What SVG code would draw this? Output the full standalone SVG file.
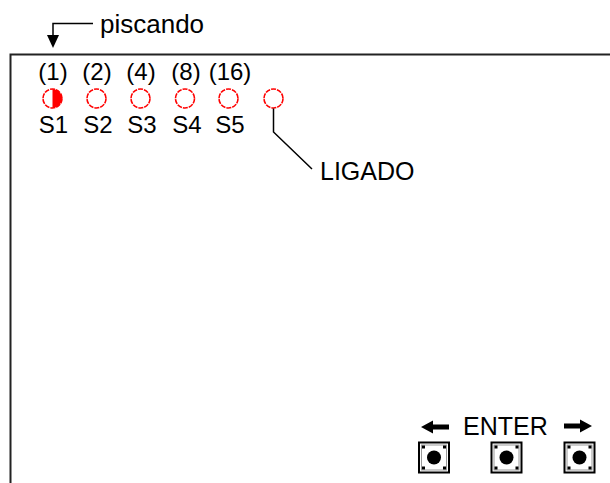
<svg xmlns="http://www.w3.org/2000/svg" width="610" height="483" viewBox="0 0 610 483">
<style>
text{font-family:"Liberation Sans",Arial,sans-serif;fill:#000}
.lbl{font-size:24px;text-anchor:middle}
.big{font-size:25px}
.led{fill:#fff;stroke:#f00;stroke-width:1.6;stroke-dasharray:5 1}
.ln{fill:none;stroke:#000;stroke-width:1.5}
.frame{fill:none;stroke:#222;stroke-width:2}
.btn{fill:#fff;stroke:#000;stroke-width:2}
.btnin{fill:none;stroke:#999;stroke-width:1}
</style>
<defs>
<g id="button">
<rect class="btn" x="-15" y="-15" width="30" height="30"/>
<rect class="btnin" x="-12.5" y="-12.5" width="25" height="25"/>
<circle r="7" fill="#000"/>
<rect x="-12" y="-12" width="3" height="3" fill="#000"/>
<rect x="9" y="-12" width="3" height="3" fill="#000"/>
<rect x="-12" y="9" width="3" height="3" fill="#000"/>
<rect x="9" y="9" width="3" height="3" fill="#000"/>
</g>
</defs>
<rect width="610" height="483" fill="#fff"/>
<g id="frame">
<path class="frame" d="M610 54.5H10.5V483"/>
</g>
<g id="piscando-label"><text class="big" x="100" y="33" style="font-size:26px">piscando</text></g>
<g id="led-s1">
<text class="lbl" x="53" y="80">(1)</text>
<circle class="led" cx="52.5" cy="98.5" r="9.5"/>
<path d="M52.5 89A9.5 9.5 0 0 1 52.5 108Z" fill="#f00"/>
<text class="lbl" x="53.5" y="133">S1</text>
</g>
<g id="led-s2">
<text class="lbl" x="97" y="80">(2)</text>
<circle class="led" cx="96.5" cy="98.5" r="9.5"/>
<text class="lbl" x="98" y="133">S2</text>
</g>
<g id="led-s3">
<text class="lbl" x="141" y="80">(4)</text>
<circle class="led" cx="140.5" cy="98.5" r="9.5"/>
<text class="lbl" x="142" y="133">S3</text>
</g>
<g id="led-s4">
<text class="lbl" x="186" y="80">(8)</text>
<circle class="led" cx="185" cy="98.5" r="9.5"/>
<text class="lbl" x="187" y="133">S4</text>
</g>
<g id="led-s5">
<text class="lbl" x="230" y="80">(16)</text>
<circle class="led" cx="228.5" cy="98.5" r="9.5"/>
<text class="lbl" x="230" y="133">S5</text>
</g>
<g id="led-ligado">
<circle class="led" cx="273.5" cy="98.5" r="9.5"/>
</g>
<g id="ligado-label"><text class="big" x="320" y="180">LIGADO</text></g>
<g id="enter-label"><text class="big" x="463" y="435">ENTER</text></g>
<g id="arrow-left"><path d="M421 427L433 420.5V424.5H449V429.5H433V433.5Z" fill="#000"/></g>
<g id="arrow-right"><path d="M592 426L580 419.5V423.5H564V428.5H580V432.5Z" fill="#000"/></g>
<g id="btn-left"><use href="#button" x="434" y="457.5"/></g>
<g id="btn-enter"><use href="#button" x="506.5" y="457.5"/></g>
<g id="btn-right"><use href="#button" x="579.5" y="457.5"/></g>
<g id="connectors">
<path class="ln" d="M93 23.5H53V37"/>
<path d="M47 35H59L53 48Z" fill="#000"/>
<path class="ln" d="M273.5 108.5V132L312 169"/>
</g>
</svg>
